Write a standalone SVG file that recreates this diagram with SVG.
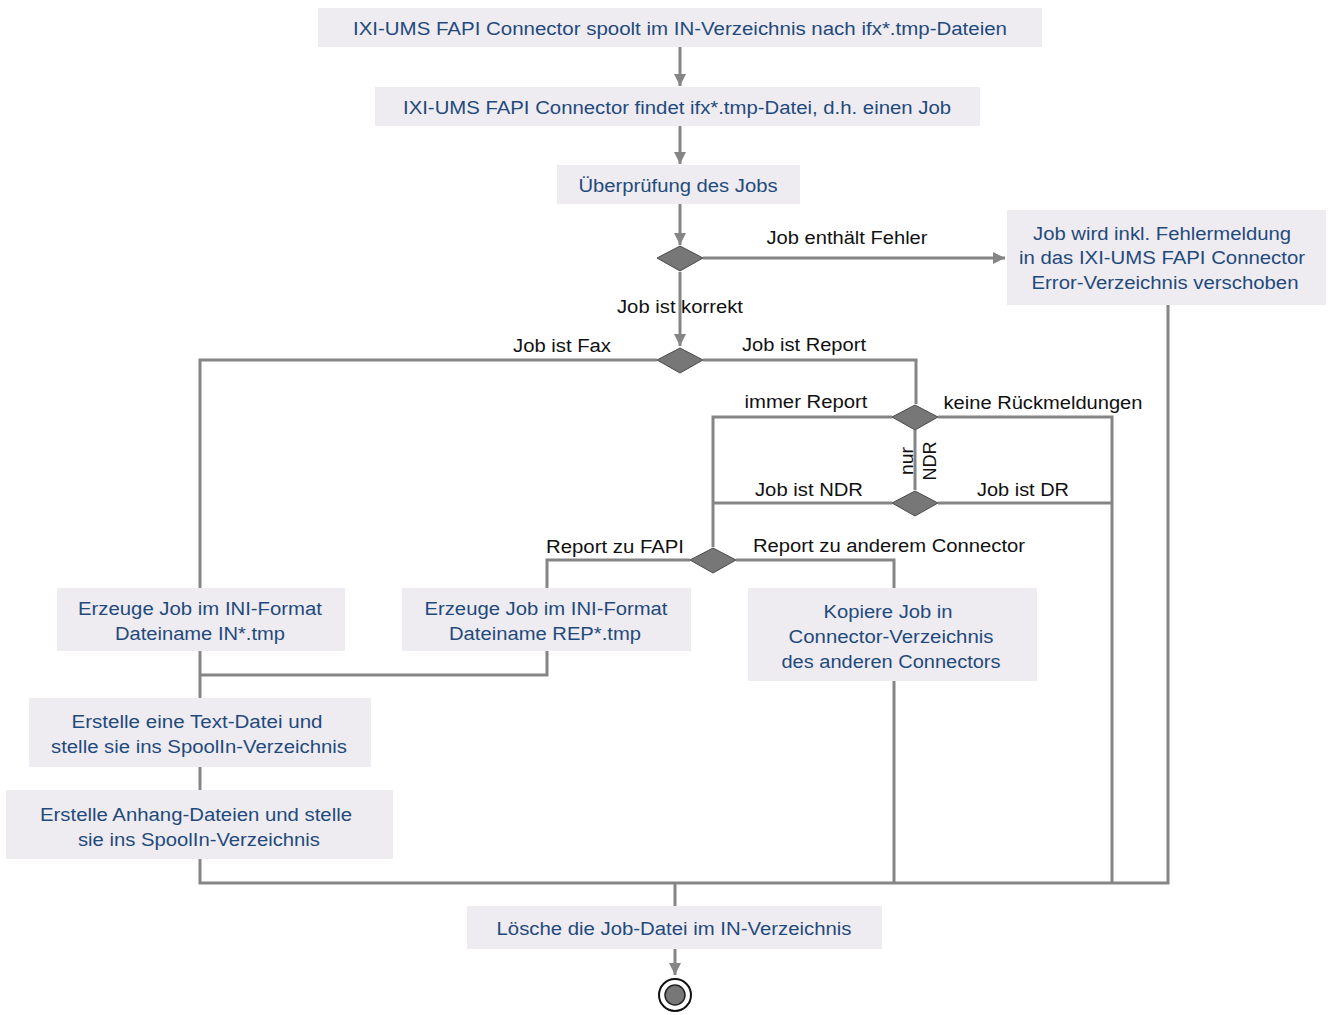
<svg xmlns="http://www.w3.org/2000/svg" width="1331" height="1015" viewBox="0 0 1331 1015">
<style>
.node rect{fill:#EFECF1}
.node text{font-family:"Liberation Sans",Arial,sans-serif;font-size:18px;fill:#1F4A7C;text-anchor:middle}
.lbl{font-family:"Liberation Sans",Arial,sans-serif;font-size:18px;fill:#111;text-anchor:middle}
.c{fill:none;stroke:#858585;stroke-width:3}
.dia{fill:#777777;stroke:#4a4a4a;stroke-width:1}
</style>
<defs>
<marker id="arr" viewBox="0 0 10 10" refX="10" refY="5" markerWidth="4" markerHeight="4" markerUnits="strokeWidth" orient="auto">
<path d="M0,0 L10,5 L0,10 z" fill="#858585"/>
</marker>
</defs>
<rect width="1331" height="1015" fill="#ffffff"/>
<g id="connectors">
<path class="c" d="M680,47 V86" marker-end="url(#arr)"/>
<path class="c" d="M680,126 V164" marker-end="url(#arr)"/>
<path class="c" d="M680,204 V245" marker-end="url(#arr)"/>
<path class="c" d="M703,258 H1005" marker-end="url(#arr)"/>
<path class="c" d="M680,272 V346" marker-end="url(#arr)"/>
<path class="c" d="M657,360 H200 V588"/>
<path class="c" d="M703,360 H916 V404"/>
<path class="c" d="M892,417 H713 V547"/>
<path class="c" d="M938,417 H1112 V883"/>
<path class="c" d="M915,430 V490"/>
<path class="c" d="M892,503 H713"/>
<path class="c" d="M938,503 H1112"/>
<path class="c" d="M690,560 H547 V588"/>
<path class="c" d="M736,560 H894 V588"/>
<path class="c" d="M894,681 V883"/>
<path class="c" d="M200,651 V698"/>
<path class="c" d="M547,651 V675 H200"/>
<path class="c" d="M200,767 V790"/>
<path class="c" d="M200,859 V883 H1168 V305"/>
<path class="c" d="M675,883 V906"/>
<path class="c" d="M675,949 V975" marker-end="url(#arr)"/>
</g>
<g id="labels">
<text class="lbl" x="847" y="244" textLength="161" lengthAdjust="spacingAndGlyphs">Job enthält Fehler</text>
<text class="lbl" x="680" y="313" textLength="126" lengthAdjust="spacingAndGlyphs">Job ist korrekt</text>
<text class="lbl" x="562" y="352" textLength="98" lengthAdjust="spacingAndGlyphs">Job ist Fax</text>
<text class="lbl" x="804" y="351" textLength="124" lengthAdjust="spacingAndGlyphs">Job ist Report</text>
<text class="lbl" x="806" y="408" textLength="123" lengthAdjust="spacingAndGlyphs">immer Report</text>
<text class="lbl" x="1043" y="409" textLength="199" lengthAdjust="spacingAndGlyphs">keine Rückmeldungen</text>
<text class="lbl" transform="translate(913,461) rotate(-90)" textLength="28" lengthAdjust="spacingAndGlyphs">nur</text>
<text class="lbl" transform="translate(936,461) rotate(-90)" textLength="39" lengthAdjust="spacingAndGlyphs">NDR</text>
<text class="lbl" x="809" y="496" textLength="108" lengthAdjust="spacingAndGlyphs">Job ist NDR</text>
<text class="lbl" x="1023" y="496" textLength="92" lengthAdjust="spacingAndGlyphs">Job ist DR</text>
<text class="lbl" x="615" y="553" textLength="138" lengthAdjust="spacingAndGlyphs">Report zu FAPI</text>
<text class="lbl" x="889" y="552" textLength="272" lengthAdjust="spacingAndGlyphs">Report zu anderem Connector</text>
</g>
<g id="n1" class="node">
<rect x="318" y="8" width="724" height="39"/>
<text x="680" y="35" textLength="654" lengthAdjust="spacingAndGlyphs">IXI-UMS FAPI Connector spoolt im IN-Verzeichnis nach ifx*.tmp-Dateien</text>
</g>
<g id="n2" class="node">
<rect x="375" y="87" width="605" height="39"/>
<text x="677" y="114" textLength="548" lengthAdjust="spacingAndGlyphs">IXI-UMS FAPI Connector findet ifx*.tmp-Datei, d.h. einen Job</text>
</g>
<g id="n3" class="node">
<rect x="557" y="165" width="243" height="39"/>
<text x="678" y="192" textLength="199" lengthAdjust="spacingAndGlyphs">Überprüfung des Jobs</text>
</g>
<g id="d1"><polygon class="dia" points="680,246 703,258 680,271 657,258"/></g>
<g id="nErr" class="node">
<rect x="1007" y="210" width="319" height="95"/>
<text x="1162" y="240" textLength="258" lengthAdjust="spacingAndGlyphs">Job wird inkl. Fehlermeldung</text>
<text x="1162" y="264" textLength="286" lengthAdjust="spacingAndGlyphs">in das IXI-UMS FAPI Connector</text>
<text x="1165" y="289" textLength="267" lengthAdjust="spacingAndGlyphs">Error-Verzeichnis verschoben</text>
</g>
<g id="d2"><polygon class="dia" points="680,348 703,360 680,373 657,360"/></g>
<g id="d3"><polygon class="dia" points="915,405 938,417 915,430 892,417"/></g>
<g id="d4"><polygon class="dia" points="915,491 938,503 915,516 892,503"/></g>
<g id="d5"><polygon class="dia" points="713,548 736,560 713,573 690,560"/></g>
<g id="nIN" class="node">
<rect x="57" y="588" width="288" height="63"/>
<text x="200" y="615" textLength="244" lengthAdjust="spacingAndGlyphs">Erzeuge Job im INI-Format</text>
<text x="200" y="640" textLength="170" lengthAdjust="spacingAndGlyphs">Dateiname IN*.tmp</text>
</g>
<g id="nREP" class="node">
<rect x="402" y="588" width="289" height="63"/>
<text x="546" y="615" textLength="243" lengthAdjust="spacingAndGlyphs">Erzeuge Job im INI-Format</text>
<text x="545" y="640" textLength="192" lengthAdjust="spacingAndGlyphs">Dateiname REP*.tmp</text>
</g>
<g id="nKop" class="node">
<rect x="748" y="588" width="289" height="93"/>
<text x="888" y="618" textLength="129" lengthAdjust="spacingAndGlyphs">Kopiere Job in</text>
<text x="891" y="643" textLength="205" lengthAdjust="spacingAndGlyphs">Connector-Verzeichnis</text>
<text x="891" y="668" textLength="219" lengthAdjust="spacingAndGlyphs">des anderen Connectors</text>
</g>
<g id="nText" class="node">
<rect x="29" y="698" width="342" height="69"/>
<text x="197" y="728" textLength="251" lengthAdjust="spacingAndGlyphs">Erstelle eine Text-Datei und</text>
<text x="199" y="753" textLength="296" lengthAdjust="spacingAndGlyphs">stelle sie ins SpoolIn-Verzeichnis</text>
</g>
<g id="nAnh" class="node">
<rect x="6" y="790" width="387" height="69"/>
<text x="196" y="821" textLength="312" lengthAdjust="spacingAndGlyphs">Erstelle Anhang-Dateien und stelle</text>
<text x="199" y="846" textLength="242" lengthAdjust="spacingAndGlyphs">sie ins SpoolIn-Verzeichnis</text>
</g>
<g id="nDel" class="node">
<rect x="467" y="906" width="415" height="43"/>
<text x="674" y="935" textLength="355" lengthAdjust="spacingAndGlyphs">Lösche die Job-Datei im IN-Verzeichnis</text>
</g>
<g id="end">
<circle cx="675" cy="995" r="16" fill="#ffffff" stroke="#111" stroke-width="2"/>
<circle cx="675" cy="995" r="10" fill="#777777" stroke="#222" stroke-width="1.5"/>
</g>
</svg>
